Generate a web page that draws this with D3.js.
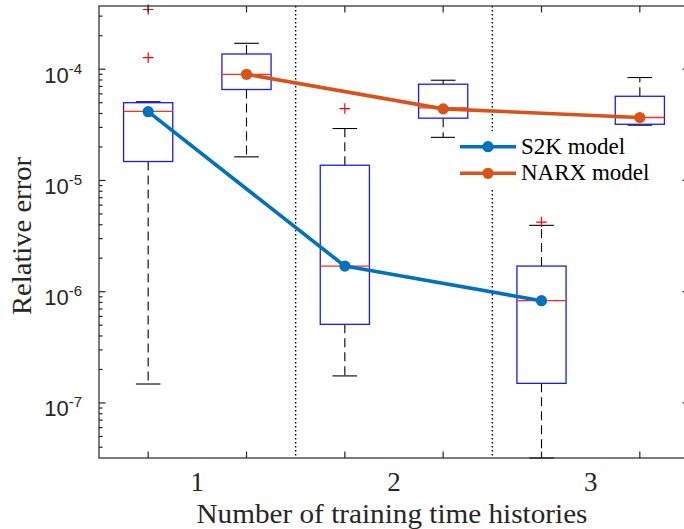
<!DOCTYPE html>
<html>
<head>
<meta charset="utf-8">
<script src="https://cdn.jsdelivr.net/npm/d3@7"></script>
<style>
  html, body { margin: 0; padding: 0; background: #fff; }
  svg { display: block; }
</style>
</head>
<body>
<script>
// Relative error of the S2K and NARX models vs. number of training time histories

// Group labels under the x axis (one group = S2K box + NARX box)
const groupLabels = ["1", "2", "3"];
const groupCenters = [1.5, 3.5, 5.5];

// Box positions along the x axis and which model each box belongs to
const boxPositions = [1, 2, 3, 4, 5, 6];
const boxModels = ["S2K", "NARX", "S2K", "NARX", "S2K", "NARX"];

// Box statistics (relative error)
const whiskerLow  = [1.48e-7, 1.63e-5, 1.75e-7, 2.44e-5, 3.2e-8,  3.14e-5];
const quartile1   = [1.48e-5, 6.57e-5, 5.09e-7, 3.63e-5, 1.50e-7, 3.20e-5];
const medians     = [4.17e-5, 9.0e-5,  1.70e-6, 4.49e-5, 8.31e-7, 3.68e-5];
const quartile3   = [5.0e-5,  1.37e-4, 1.37e-5, 7.33e-5, 1.70e-6, 5.71e-5];
const whiskerHigh = [5.1e-5,  1.71e-4, 2.93e-5, 7.96e-5, 3.95e-6, 8.42e-5];
const outliers    = [[3.44e-4, 1.27e-4], [], [4.43e-5], [], [4.23e-6], []];

// Mean error of each model, drawn as lines through its boxes
const s2kPositions  = [1, 3, 5];
const s2kMean       = [4.15e-5, 1.70e-6, 8.3e-7];
const narxPositions = [2, 4, 6];
const narxMean      = [9.0e-5, 4.4e-5, 3.68e-5];

// Axis settings
const xLimits = [0.5, 6.5];
const yLimits = [3.2e-8, 3.7e-4];
const yMajorTicks = [1e-7, 1e-6, 1e-5, 1e-4];
const yTickExponents = ["-7", "-6", "-5", "-4"];
const groupSeparators = [2.5, 4.5];

const seriesNames = ["S2K model", "NARX model"];
const seriesColors = ["#0072BD", "#D95319"];

const W = 684, H = 529;
const plot = { left: 99, right: 689, top: 6, bottom: 458 };
const axisColor = "#262626";

const svg = d3.select("body").append("svg")
  .attr("width", W).attr("height", H)
  .attr("viewBox", `0 0 ${W} ${H}`);
svg.append("rect").attr("width", W).attr("height", H).attr("fill", "#fff");

const x = d3.scaleLinear().domain(xLimits).range([plot.left, plot.right]);
const y = d3.scaleLog().domain(yLimits).range([plot.bottom, plot.top]);

// Minor ticks: 2..9 within every decade in range
const yMinorTicks = [];
for (let e = -8; e <= -4; e++) {
  for (let m = 2; m <= 9; m++) {
    const v = m * Math.pow(10, e);
    if (v > yLimits[0] && v < yLimits[1]) yMinorTicks.push(v);
  }
}

// Group separators (dotted)
svg.append("g").selectAll("line").data(groupSeparators).join("line")
  .attr("x1", d => x(d)).attr("x2", d => x(d))
  .attr("y1", plot.top).attr("y2", plot.bottom)
  .attr("stroke", "#000").attr("stroke-width", 1.4)
  .attr("stroke-dasharray", "1.4,2.6");

// Boxes
const boxHalf = 0.25, capHalf = 0.125;
const boxes = svg.append("g");
boxPositions.forEach((p, i) => {
  const g = boxes.append("g");
  // whiskers
  g.append("line")
    .attr("x1", x(p)).attr("x2", x(p))
    .attr("y1", y(quartile3[i])).attr("y2", y(whiskerHigh[i]))
    .attr("stroke", "#000").attr("stroke-width", 1.1).attr("stroke-dasharray", "9,5");
  g.append("line")
    .attr("x1", x(p)).attr("x2", x(p))
    .attr("y1", y(quartile1[i])).attr("y2", y(whiskerLow[i]))
    .attr("stroke", "#000").attr("stroke-width", 1.1).attr("stroke-dasharray", "9,5");
  // caps
  [whiskerHigh[i], whiskerLow[i]].forEach(v => {
    g.append("line")
      .attr("x1", x(p - capHalf)).attr("x2", x(p + capHalf))
      .attr("y1", y(v)).attr("y2", y(v))
      .attr("stroke", "#000").attr("stroke-width", 1.1);
  });
  // box
  g.append("rect")
    .attr("x", x(p - boxHalf)).attr("width", x(p + boxHalf) - x(p - boxHalf))
    .attr("y", y(quartile3[i])).attr("height", y(quartile1[i]) - y(quartile3[i]))
    .attr("fill", "none").attr("stroke", "#1a1aff").attr("stroke-width", 1.3);
  // median
  g.append("line")
    .attr("x1", x(p - boxHalf)).attr("x2", x(p + boxHalf))
    .attr("y1", y(medians[i])).attr("y2", y(medians[i]))
    .attr("stroke", "#ff2a2a").attr("stroke-width", 1.3);
  // outliers
  outliers[i].forEach(v => {
    const cx = x(p), cy = y(v), s = 5.3;
    g.append("path")
      .attr("d", `M${cx - s},${cy}H${cx + s}M${cx},${cy - s}V${cy + s}`)
      .attr("stroke", "#ff0000").attr("stroke-width", 1.2).attr("fill", "none");
  });
});

// Mean lines with markers
const series = [
  { pos: s2kPositions, val: s2kMean, color: seriesColors[0] },
  { pos: narxPositions, val: narxMean, color: seriesColors[1] }
];
const lineGen = d3.line().x(d => x(d[0])).y(d => y(d[1]));
series.forEach(s => {
  const pts = s.pos.map((p, i) => [p, s.val[i]]);
  svg.append("path").datum(pts)
    .attr("d", lineGen)
    .attr("fill", "none").attr("stroke", s.color).attr("stroke-width", 3.6)
    .attr("stroke-linejoin", "round");
  svg.append("g").selectAll("circle").data(pts).join("circle")
    .attr("cx", d => x(d[0])).attr("cy", d => y(d[1])).attr("r", 5.6)
    .attr("fill", s.color);
});

// Axes frame
const axes = svg.append("g").attr("stroke", axisColor).attr("stroke-width", 1.2);
axes.append("rect")
  .attr("x", plot.left).attr("y", plot.top)
  .attr("width", plot.right - plot.left).attr("height", plot.bottom - plot.top)
  .attr("fill", "none");

// x ticks (bottom and top, pointing inward)
const tickLen = 6.5, minorLen = 3.6;
boxPositions.forEach(p => {
  axes.append("line").attr("x1", x(p)).attr("x2", x(p))
    .attr("y1", plot.bottom).attr("y2", plot.bottom - tickLen);
  axes.append("line").attr("x1", x(p)).attr("x2", x(p))
    .attr("y1", plot.top).attr("y2", plot.top + tickLen);
});
// y ticks (left and right)
yMajorTicks.forEach(v => {
  axes.append("line").attr("x1", plot.left).attr("x2", plot.left + tickLen)
    .attr("y1", y(v)).attr("y2", y(v));
  axes.append("line").attr("x1", plot.right).attr("x2", plot.right - tickLen)
    .attr("y1", y(v)).attr("y2", y(v));
});
yMinorTicks.forEach(v => {
  axes.append("line").attr("x1", plot.left).attr("x2", plot.left + minorLen)
    .attr("y1", y(v)).attr("y2", y(v));
  axes.append("line").attr("x1", plot.right).attr("x2", plot.right - minorLen)
    .attr("y1", y(v)).attr("y2", y(v));
});

// y tick labels: 10^k
const yLab = svg.append("g")
  .attr("font-family", "'Liberation Sans', Arial, sans-serif")
  .attr("fill", "#262626");
yMajorTicks.forEach((v, i) => {
  const t = yLab.append("text")
    .attr("x", 82).attr("y", y(v) + 13.5)
    .attr("text-anchor", "end");
  t.append("tspan").attr("font-size", 22).text("10");
  t.append("tspan").attr("font-size", 15).attr("dy", -9).text(yTickExponents[i]);
});

// x group labels
const serif = "'Liberation Serif', 'Times New Roman', serif";
svg.append("g").selectAll("text").data(groupLabels).join("text")
  .attr("x", (d, i) => x(groupCenters[i])).attr("y", 491)
  .attr("text-anchor", "middle")
  .attr("font-family", serif).attr("font-size", 27).attr("fill", "#262626")
  .text(d => d);

// Axis titles
svg.append("text")
  .attr("x", (plot.left + plot.right) / 2 - 2).attr("y", 523)
  .attr("text-anchor", "middle")
  .attr("font-family", serif).attr("font-size", 27).attr("fill", "#262626")
  .attr("textLength", 391).attr("lengthAdjust", "spacingAndGlyphs")
  .text("Number of training time histories");

svg.append("text")
  .attr("transform", "translate(31,236) rotate(-90)")
  .attr("text-anchor", "middle")
  .attr("font-family", serif).attr("font-size", 27).attr("fill", "#262626")
  .attr("textLength", 158).attr("lengthAdjust", "spacingAndGlyphs")
  .text("Relative error");

// Legend
const legend = svg.append("g");
legend.append("rect")
  .attr("x", 455).attr("y", 131).attr("width", 205).attr("height", 57)
  .attr("fill", "#fff");
seriesNames.forEach((name, i) => {
  const ly = 146.7 + i * 26.6;
  legend.append("line").attr("x1", 460).attr("x2", 516)
    .attr("y1", ly).attr("y2", ly)
    .attr("stroke", seriesColors[i]).attr("stroke-width", 3.6);
  legend.append("circle").attr("cx", 488).attr("cy", ly).attr("r", 5.6)
    .attr("fill", seriesColors[i]);
  legend.append("text")
    .attr("x", 521).attr("y", ly + 6.8)
    .attr("font-family", serif).attr("font-size", 23).attr("fill", "#000")
    .text(name);
});
</script>
</body>
</html>
